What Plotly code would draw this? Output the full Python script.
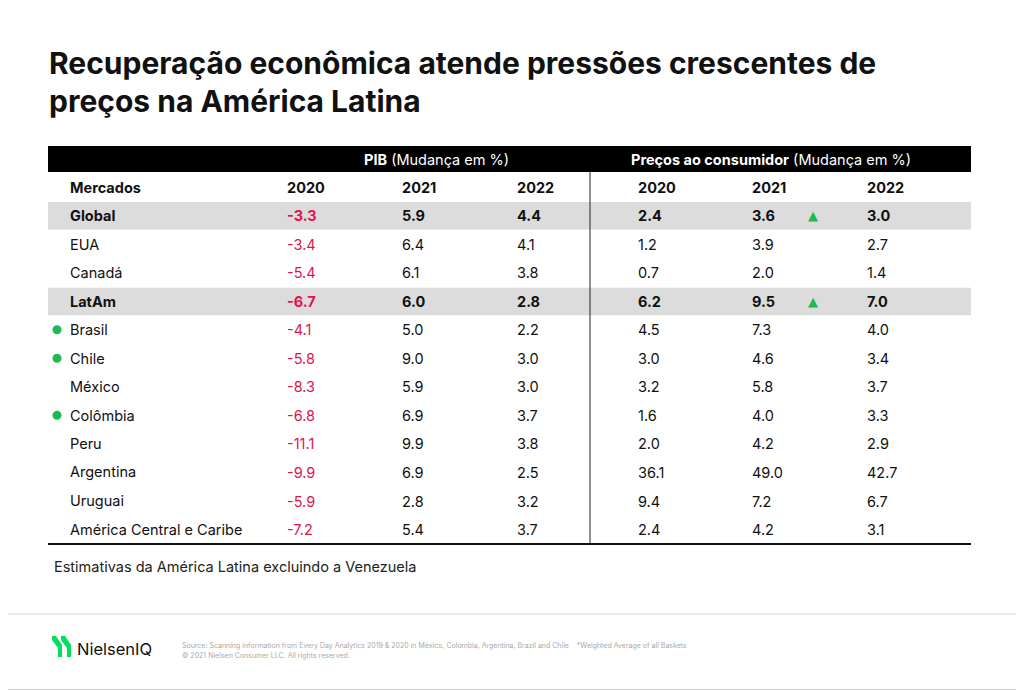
import plotly.graph_objects as go

markets = ["Global","EUA","Canadá","LatAm","Brasil","Chile","México","Colômbia","Peru","Argentina","Uruguai","América Central e Caribe"]
gdp2020 = ["-3.3","-3.4","-5.4","-6.7","-4.1","-5.8","-8.3","-6.8","-11.1","-9.9","-5.9","-7.2"]
gdp2021 = ["5.9","6.4","6.1","6.0","5.0","9.0","5.9","6.9","9.9","6.9","2.8","5.4"]
gdp2022 = ["4.4","4.1","3.8","2.8","2.2","3.0","3.0","3.7","3.8","2.5","3.2","3.7"]
cpi2020 = ["2.4","1.2","0.7","6.2","4.5","3.0","3.2","1.6","2.0","36.1","9.4","2.4"]
cpi2021 = ["3.6","3.9","2.0","9.5","7.3","4.6","5.8","4.0","4.2","49.0","7.2","4.2"]
cpi2022 = ["3.0","2.7","1.4","7.0","4.0","3.4","3.7","3.3","2.9","42.7","6.7","3.1"]
bold_rows = ["Global","LatAm"]
dot_rows = ["Brasil","Chile","Colômbia"]
up_rows = ["Global","LatAm"]
years = ["2020","2021","2022"]

FONT = "Inter"
RED = "#e0144c"
GREEN = "#1db954"
fig = go.Figure()
shapes = []
ann = []

def txt(x, y, s, size=14.5, color="#111", bold=False, anchor="left", family=FONT):
    if bold:
        s = "<b>" + s + "</b>"
    ann.append(dict(x=x, y=y, xref="x", yref="y", text=s, showarrow=False,
                    xanchor=anchor, yanchor="middle",
                    font=dict(size=size, color=color, family=family)))

shapes.append(dict(type="rect", x0=0.5, x1=1023.5, y0=0.5, y1=689.5, line=dict(color="#d0d0d0", width=1)))
shapes.append(dict(type="line", x0=0, x1=1024, y0=614, y1=614, line=dict(color="#d8d8d8", width=1)))

txt(47, 63, "Recuperação econômica atende pressões crescentes de", size=30, bold=True)
txt(47, 101, "preços na América Latina", size=30, bold=True)

shapes.append(dict(type="rect", x0=48, x1=971, y0=146, y1=172, fillcolor="black", line=dict(width=0)))
txt(362, 159, "<b>PIB</b> (Mudança em %)", color="white")
txt(629, 159, "<b>Preços ao consumidor</b> (Mudança em %)", color="white")

colx = [285, 400, 515, 636, 750, 865]
txt(68, 187, "Mercados", bold=True)
for i, yv in enumerate(years + years):
    txt(colx[i], 187, yv, bold=True)

y0 = 215.5
dy = 28.55
for r, m in enumerate(markets):
    y = y0 + r * dy
    b = m in bold_rows
    if b:
        shapes.append(dict(type="rect", x0=48, x1=971, y0=y - 13.5, y1=y + 14, fillcolor="#dcdcdc",
                           line=dict(width=0), layer="below"))
    if m in dot_rows:
        shapes.append(dict(type="circle", x0=52.5, x1=61.5, y0=y - 4.5, y1=y + 4.5, fillcolor=GREEN, line=dict(width=0)))
    txt(68, y, m, bold=b)
    vals = [gdp2020[r], gdp2021[r], gdp2022[r], cpi2020[r], cpi2021[r], cpi2022[r]]
    for i, v in enumerate(vals):
        txt(colx[i], y, v, bold=b, color=RED if i == 0 else "#111")
    if m in up_rows:
        txt(806, y, "▲", size=13, color=GREEN, family="DejaVu Sans")

shapes.append(dict(type="line", x0=590, x1=590, y0=172, y1=544, line=dict(color="#222", width=1)))
shapes.append(dict(type="line", x0=48, x1=971, y0=544, y1=544, line=dict(color="#111", width=2)))

txt(52, 566, "Estimativas da América Latina excluindo a Venezuela", color="#222")

for dx in (0, 9):
    shapes.append(dict(type="path", path=f"M {52+dx} 636 L {56+dx} 636 L {62+dx} 645 L {62+dx} 657 L {58+dx} 657 L {58+dx} 648 L {52+dx} 640 Z",
                       fillcolor="#00e05a", line=dict(width=0)))
txt(75, 649, "NielsenIQ", size=16.5, color="#111")
txt(180, 645, "Source: Scanning information from Every Day Analytics 2019 & 2020 in México, Colombia, Argentina, Brazil and Chile &nbsp;&nbsp;&nbsp;*Weighted Average of all Baskets", size=7, color="#aaa")
txt(180, 655, "© 2021 Nielsen Consumer LLC. All rights reserved.", size=7, color="#aaa")

fig.update_layout(width=1024, height=690, margin=dict(l=0, r=0, t=0, b=0),
                  paper_bgcolor="white", plot_bgcolor="white", shapes=shapes, annotations=ann,
                  xaxis=dict(range=[8, 1032], visible=False, fixedrange=True),
                  yaxis=dict(range=[698, 8], visible=False, fixedrange=True),
                  showlegend=False)
fig.write_html("out.html", config={"displayModeBar": False})
